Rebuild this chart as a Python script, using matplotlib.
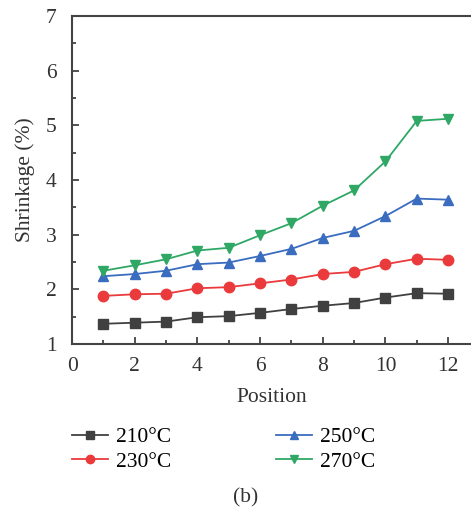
import matplotlib
matplotlib.use("Agg")
import matplotlib.pyplot as plt
from matplotlib.ticker import MultipleLocator

plt.rcParams['font.family'] = ['Liberation Serif', 'DejaVu Serif']

positions = [1, 2, 3, 4, 5, 6, 7, 8, 9, 10, 11, 12]
s210 = [1.37, 1.39, 1.41, 1.49, 1.51, 1.57, 1.64, 1.70, 1.75, 1.85, 1.93, 1.92]
s230 = [1.88, 1.91, 1.92, 2.02, 2.04, 2.11, 2.18, 2.28, 2.32, 2.46, 2.56, 2.54]
s250 = [2.24, 2.28, 2.34, 2.46, 2.49, 2.61, 2.74, 2.94, 3.07, 3.34, 3.66, 3.64]
s270 = [2.34, 2.44, 2.55, 2.71, 2.76, 2.99, 3.21, 3.53, 3.81, 4.34, 5.08, 5.12]
labels = ['210°C', '230°C', '250°C', '270°C']

colors = ['#404040', '#ea3a3c', '#3a6cbf', '#2fa866']
markers = ['s', 'o', '^', 'v']

FS = 15.5
TXT = '#333333'

fig = plt.figure(figsize=(4.71, 5.15), dpi=100)
ax = fig.add_axes([0.153, 0.332, 0.847, 0.637])

for ys, lab, c, m in zip([s210, s230, s250, s270], labels, colors, markers):
    ax.plot(positions, ys, color=c, marker=m, markersize=7.5, linewidth=1.3,
            label=lab)

ax.set_xlim(0, 12.73)
ax.set_ylim(1, 7)
ax.xaxis.set_major_locator(MultipleLocator(2))
ax.xaxis.set_minor_locator(MultipleLocator(1))
ax.yaxis.set_major_locator(MultipleLocator(1))
ax.yaxis.set_minor_locator(MultipleLocator(0.5))
ax.tick_params(which='both', direction='in', top=False, right=False,
               labelsize=FS, colors=TXT, width=1.2)
ax.tick_params(which='major', length=5)
ax.tick_params(which='minor', length=3)
ax.tick_params(axis='x', which='major', pad=9)
ax.tick_params(axis='y', which='major', pad=11)
ax.spines['right'].set_visible(False)
for sp in ['left', 'bottom', 'top']:
    ax.spines[sp].set_linewidth(1.5)
    ax.spines[sp].set_color('#444444')

ax.set_xlabel('Position', fontsize=FS, color=TXT, labelpad=9)
ax.set_ylabel('Shrinkage (%)', fontsize=FS, color=TXT, labelpad=8)

fig.legend(loc='center left', bbox_to_anchor=(0.153, 0.127), ncol=2,
           frameon=False, borderpad=0, borderaxespad=0,
           fontsize=FS, handlelength=1.65, columnspacing=4.9,
           labelspacing=0.2, handletextpad=0.37, markerscale=0.8)

fig.text(0.522, 0.033, '(b)', ha='center', va='center', fontsize=FS,
         color=TXT)

fig.savefig('out.png', dpi=100)
